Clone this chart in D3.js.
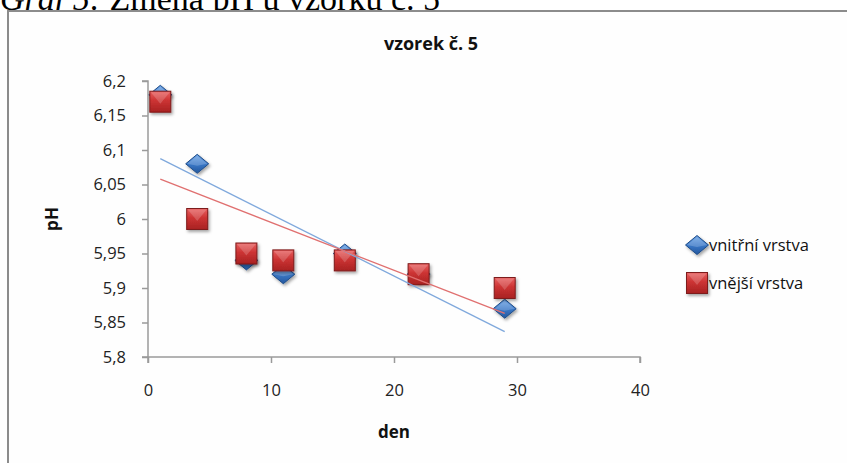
<!DOCTYPE html>
<html>
<head>
<meta charset="utf-8">
<script src="https://cdn.jsdelivr.net/npm/d3@7"></script>
<style>
  body { margin: 0; background: #fff; }
  svg { display: block; }
</style>
</head>
<body>
<svg></svg>
<script>
const days = [1, 4, 8, 11, 16, 22, 29];
const inner = [6.18, 6.08, 5.94, 5.92, 5.95, 5.92, 5.87];
const outer = [6.17, 6.00, 5.95, 5.94, 5.94, 5.92, 5.90];
const seriesNames = ['vnitřní vrstva', 'vnější vrstva'];
const xTicks = [0, 10, 20, 30, 40];
const yTicks = [5.8, 5.85, 5.9, 5.95, 6, 6.05, 6.1, 6.15, 6.2];

const W = 847, H = 463;
const font = 'Open Sans, DejaVu Sans, sans-serif';

const svg = d3.select('svg')
    .attr('width', W)
    .attr('height', H);

const defs = svg.append('defs');
const redGrad = defs.append('linearGradient').attr('id', 'redG')
    .attr('x1', 0).attr('y1', 0).attr('x2', 0).attr('y2', 1);
redGrad.append('stop').attr('offset', '0%').attr('stop-color', '#e86060');
redGrad.append('stop').attr('offset', '45%').attr('stop-color', '#cc3333');
redGrad.append('stop').attr('offset', '100%').attr('stop-color', '#a82222');
const blueGrad = defs.append('linearGradient').attr('id', 'blueG')
    .attr('x1', 0).attr('y1', 0).attr('x2', 0).attr('y2', 1);
blueGrad.append('stop').attr('offset', '0%').attr('stop-color', '#6aa2e4');
blueGrad.append('stop').attr('offset', '50%').attr('stop-color', '#3a78c8');
blueGrad.append('stop').attr('offset', '100%').attr('stop-color', '#24589e');
const shadow = defs.append('filter').attr('id', 'sh')
    .attr('x', '-50%').attr('y', '-50%').attr('width', '200%').attr('height', '200%');
shadow.append('feDropShadow').attr('dx', 1.5).attr('dy', 2).attr('stdDeviation', 1.5)
    .attr('flood-color', '#000').attr('flood-opacity', 0.35);

// caption above the chart (cut off at top, as in the document)
const cap = svg.append('text')
    .attr('x', 0).attr('y', 10)
    .attr('font-family', 'Liberation Serif, serif')
    .attr('font-size', 34)
    .attr('fill', '#000');
cap.append('tspan').attr('font-style', 'italic').text('Graf 5:');
cap.append('tspan').text(' Změna pH u vzorku č. 5');

// chart frame
svg.append('rect')
    .attr('x', 8).attr('y', 11)
    .attr('width', 860).attr('height', 470)
    .attr('fill', '#fefefe')
    .attr('stroke', '#8c8c8c')
    .attr('stroke-width', 2);

const xScale = d3.scaleLinear().domain([0, 40]).range([148, 640]);
const yScale = d3.scaleLinear().domain([5.8, 6.2]).range([357, 81]);

const fmt = d => String(+d.toFixed(2)).replace('.', ',');

const yAxis = svg.append('g')
    .attr('transform', `translate(${xScale(0)},0)`)
    .call(d3.axisLeft(yScale).tickValues(yTicks).tickSize(6).tickPadding(16).tickFormat(fmt));
const xAxis = svg.append('g')
    .attr('transform', `translate(0,${yScale(5.8)})`)
    .call(d3.axisBottom(xScale).tickValues(xTicks).tickSize(6).tickPadding(21));
[xAxis, yAxis].forEach(a => {
    a.select('.domain').attr('stroke', '#9a9a9a').attr('stroke-width', 1.5);
    a.selectAll('.tick line').attr('stroke', '#9a9a9a').attr('stroke-width', 1.5);
    a.selectAll('.tick text')
        .attr('font-family', font)
        .attr('font-size', 16.5)
        .attr('fill', '#222');
});
yAxis.select('.domain').attr('d', `M-6,${yScale(6.2)}H0V${yScale(5.8)}H-6`);
xAxis.select('.domain').attr('d', `M${xScale(0)},6V0H${xScale(40)}V6`);

// trendlines (linear least squares)
function fit(xs, ys) {
    const mx = d3.mean(xs), my = d3.mean(ys);
    const sxy = d3.sum(xs, (x, i) => (x - mx) * (ys[i] - my));
    const sxx = d3.sum(xs, x => (x - mx) * (x - mx));
    const b = sxy / sxx;
    return x => my + b * (x - mx);
}
const line = d3.line().x(d => xScale(d[0])).y(d => yScale(d[1]));
const xEnds = d3.extent(days);
const fInner = fit(days, inner), fOuter = fit(days, outer);

// markers
const sq = 21;
const diamond = 'M0,-9.5L11.5,0L0,9.5L-11.5,0Z';

function drawSquare(g, cx, cy) {
    g.append('rect')
        .attr('x', cx - sq / 2).attr('y', cy - sq / 2)
        .attr('width', sq).attr('height', sq)
        .attr('fill', 'url(#redG)')
        .attr('stroke', '#7d1a1a').attr('stroke-width', 1)
        .attr('filter', 'url(#sh)');
    g.append('path')
        .attr('d', `M${cx - sq / 2 + 1},${cy - sq / 2 + 1}L${cx},${cy + 2}L${cx + sq / 2 - 1},${cy - sq / 2 + 1}Z`)
        .attr('fill', '#ffffff').attr('opacity', 0.18);
}
function drawDiamond(g, cx, cy) {
    g.append('path')
        .attr('d', diamond)
        .attr('transform', `translate(${cx},${cy})`)
        .attr('fill', 'url(#blueG)')
        .attr('stroke', '#1f4c88').attr('stroke-width', 1)
        .attr('filter', 'url(#sh)');
    g.append('path')
        .attr('d', 'M-10,0L0,-8L10,0L0,2Z')
        .attr('transform', `translate(${cx},${cy})`)
        .attr('fill', '#ffffff').attr('opacity', 0.2);
}

const gMarks = svg.append('g');
days.forEach((d, i) => drawDiamond(gMarks, xScale(d), yScale(inner[i])));
days.forEach((d, i) => drawSquare(gMarks, xScale(d), yScale(outer[i])));

svg.append('path')
    .attr('d', line(xEnds.map(x => [x, fInner(x)])))
    .attr('fill', 'none').attr('stroke', '#7fa8dc').attr('stroke-width', 1.3);
svg.append('path')
    .attr('d', line(xEnds.map(x => [x, fOuter(x)])))
    .attr('fill', 'none').attr('stroke', '#e07070').attr('stroke-width', 1.3);

// title and axis titles
svg.append('text')
    .attr('x', 431).attr('y', 50)
    .attr('text-anchor', 'middle')
    .attr('font-family', font).attr('font-weight', 'bold').attr('font-size', 18)
    .attr('fill', '#111')
    .text('vzorek č. 5');
svg.append('text')
    .attr('x', 394).attr('y', 438)
    .attr('text-anchor', 'middle')
    .attr('font-family', font).attr('font-weight', 'bold').attr('font-size', 17)
    .attr('fill', '#111')
    .text('den');
svg.append('text')
    .attr('transform', `translate(58,${yScale(6)}) rotate(-90)`)
    .attr('text-anchor', 'middle')
    .attr('font-family', font).attr('font-weight', 'bold').attr('font-size', 17)
    .attr('fill', '#111')
    .text('pH');

// legend
const leg = svg.append('g');
drawDiamond(leg, 697, 245);
drawSquare(leg, 697, 283);
seriesNames.forEach((n, i) => {
    leg.append('text')
        .attr('x', 709).attr('y', [245, 283][i])
        .attr('dy', '0.35em')
        .attr('font-family', font).attr('font-size', 16.5)
        .attr('fill', '#111')
        .text(n);
});
</script>
</body>
</html>
